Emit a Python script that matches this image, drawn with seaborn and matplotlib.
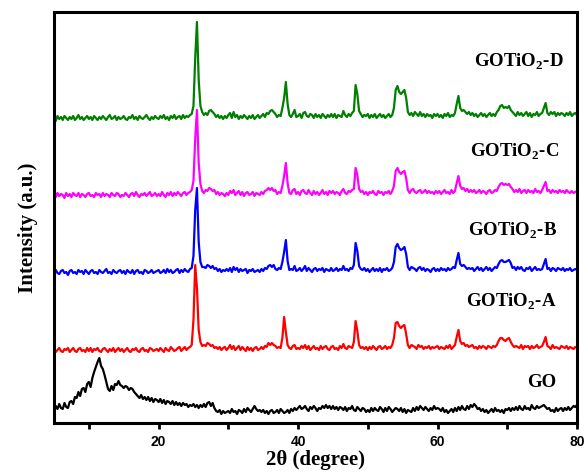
import numpy as np
import pandas as pd
import matplotlib
matplotlib.use("Agg")
import matplotlib.pyplot as plt
import seaborn as sns

# XRD scan grid, 2-theta in degrees (0.25 degree step)
two_theta = np.round(np.arange(5.0, 80.0 + 1e-9, 0.25), 2)

# Intensities (a.u.) per sample, one row = 5 degrees
go = [
    13, 17, 14, 19, 15, 14, 20, 16, 15, 21, 22, 19, 26, 25, 31, 27, 34, 35, 31, 39,
    41, 36, 45, 51, 56, 61, 65, 57, 54, 48, 41, 34, 32, 37, 33, 39, 38, 42, 38, 37,
    35, 37, 36, 33, 35, 34, 31, 29, 27, 25, 28, 24, 26, 23, 26, 22, 25, 21, 24, 23,
    21, 24, 20, 23, 19, 22, 21, 19, 22, 18, 21, 18, 20, 17, 20, 18, 19, 16, 18, 17,
    19, 16, 18, 15, 18, 16, 19, 16, 20, 21, 17, 20, 15, 12, 11, 13, 9, 12, 10, 11,
    12, 10, 14, 11, 12, 9, 13, 12, 10, 14, 11, 15, 13, 11, 14, 17, 14, 12, 13, 11,
    13, 10, 12, 9, 12, 13, 10, 11, 13, 10, 14, 12, 10, 11, 13, 10, 14, 12, 15, 13,
    15, 17, 14, 15, 17, 14, 12, 16, 14, 17, 15, 12, 15, 14, 17, 15, 18, 15, 17, 14,
    17, 14, 16, 13, 16, 15, 13, 16, 12, 15, 14, 17, 13, 12, 16, 14, 12, 15, 14, 11,
    13, 11, 15, 12, 15, 13, 12, 16, 14, 11, 15, 12, 16, 14, 11, 13, 15, 14, 12, 15,
    11, 14, 10, 13, 12, 11, 15, 12, 16, 13, 17, 15, 13, 16, 14, 12, 15, 13, 17, 14,
    15, 14, 12, 15, 11, 13, 10, 12, 14, 11, 15, 12, 16, 13, 17, 14, 13, 17, 14, 18,
    16, 19, 17, 14, 15, 12, 14, 11, 13, 10, 12, 14, 11, 15, 12, 13, 11, 13, 10, 14,
    13, 15, 12, 15, 13, 16, 13, 17, 14, 13, 17, 14, 15, 13, 18, 15, 14, 17, 15, 16,
    17, 18, 16, 14, 15, 12, 13, 11, 15, 12, 14, 15, 12, 15, 13, 16, 13, 15, 17, 16,
    18,
]

gotio2_a = [
    11, 8, 10, 12, 9, 8, 11, 10, 12, 8, 10, 12, 9, 8, 11, 12, 9, 10, 8, 12,
    9, 12, 8, 11, 10, 12, 9, 8, 11, 12, 10, 8, 11, 9, 12, 8, 10, 12, 9, 11,
    8, 10, 12, 9, 8, 11, 10, 12, 9, 8, 11, 12, 9, 10, 8, 12, 11, 9, 10, 11,
    9, 12, 10, 8, 12, 10, 9, 13, 11, 9, 10, 12, 13, 9, 11, 13, 10, 12, 13, 15,
    40, 95, 72, 30, 18, 14, 15, 14, 17, 16, 14, 15, 12, 13, 11, 13, 10, 12, 13, 10,
    12, 15, 11, 14, 10, 12, 14, 10, 13, 11, 9, 13, 10, 12, 9, 12, 13, 10, 11, 13,
    11, 14, 13, 17, 15, 17, 15, 14, 12, 13, 12, 22, 43, 28, 15, 12, 11, 14, 15, 11,
    12, 11, 14, 12, 15, 11, 14, 10, 12, 14, 11, 12, 10, 14, 11, 13, 14, 11, 10, 13,
    14, 11, 12, 10, 14, 12, 16, 12, 11, 14, 13, 12, 18, 39, 29, 15, 12, 13, 11, 13,
    10, 13, 11, 14, 12, 10, 13, 14, 11, 12, 14, 11, 13, 12, 15, 22, 37, 38, 34, 32,
    34, 35, 26, 15, 12, 15, 14, 13, 11, 15, 13, 14, 11, 13, 12, 14, 11, 13, 12, 13,
    14, 11, 13, 12, 11, 14, 12, 15, 11, 13, 15, 23, 30, 19, 16, 17, 14, 15, 13, 14,
    15, 12, 13, 11, 14, 12, 14, 13, 11, 14, 13, 12, 14, 13, 15, 19, 22, 22, 20, 19,
    21, 22, 18, 15, 13, 14, 13, 12, 15, 11, 14, 13, 14, 11, 14, 12, 13, 15, 12, 13,
    14, 18, 23, 14, 13, 11, 15, 12, 13, 12, 11, 14, 13, 12, 14, 11, 13, 12, 11, 13,
    12,
]

gotio2_b = [
    10, 12, 9, 8, 11, 12, 9, 10, 7, 11, 12, 9, 10, 8, 12, 10, 11, 8, 12, 10,
    8, 11, 12, 9, 10, 8, 12, 10, 9, 11, 13, 9, 10, 8, 12, 10, 9, 11, 12, 9,
    11, 8, 12, 10, 9, 12, 8, 11, 12, 9, 10, 8, 12, 11, 9, 10, 12, 9, 10, 11,
    12, 9, 10, 12, 9, 13, 10, 12, 9, 10, 12, 13, 9, 12, 10, 13, 11, 10, 13, 14,
    26, 72, 94, 40, 20, 15, 15, 14, 17, 16, 14, 16, 13, 14, 11, 13, 10, 12, 11, 13,
    11, 14, 10, 15, 12, 14, 10, 13, 11, 12, 13, 9, 12, 11, 13, 10, 11, 12, 10, 13,
    11, 14, 13, 16, 17, 15, 17, 13, 12, 14, 13, 20, 30, 42, 21, 12, 13, 12, 16, 11,
    12, 14, 11, 13, 16, 11, 14, 12, 10, 13, 14, 11, 13, 12, 14, 10, 13, 12, 11, 14,
    11, 12, 14, 11, 13, 12, 16, 12, 13, 11, 14, 13, 17, 39, 31, 16, 13, 12, 14, 11,
    13, 10, 12, 14, 11, 13, 11, 14, 10, 13, 12, 14, 11, 12, 14, 20, 35, 38, 34, 32,
    33, 35, 28, 15, 12, 15, 14, 13, 11, 14, 15, 12, 14, 11, 13, 12, 10, 13, 14, 11,
    13, 11, 14, 12, 13, 11, 14, 12, 13, 15, 14, 22, 29, 18, 16, 17, 15, 13, 14, 13,
    14, 11, 13, 15, 12, 14, 11, 13, 15, 12, 14, 11, 13, 15, 14, 18, 21, 22, 20, 20,
    21, 22, 19, 14, 15, 12, 15, 13, 15, 12, 11, 14, 13, 15, 11, 13, 15, 12, 13, 12,
    13, 18, 23, 13, 14, 11, 14, 13, 11, 14, 13, 12, 14, 11, 13, 12, 14, 11, 12, 13,
    12,
]

gotio2_c = [
    11, 8, 12, 9, 11, 10, 7, 12, 9, 11, 8, 12, 10, 9, 12, 8, 11, 10, 8, 11,
    12, 9, 10, 8, 12, 10, 11, 8, 12, 9, 11, 10, 8, 12, 10, 9, 12, 11, 8, 10,
    9, 12, 10, 8, 11, 12, 9, 13, 10, 8, 11, 10, 12, 9, 11, 13, 9, 10, 12, 9,
    11, 9, 13, 10, 8, 12, 10, 13, 9, 12, 10, 13, 11, 9, 12, 13, 10, 12, 13, 15,
    24, 66, 95, 42, 21, 14, 12, 15, 14, 17, 16, 14, 15, 11, 13, 10, 12, 11, 9, 12,
    10, 14, 12, 15, 10, 12, 14, 10, 13, 9, 12, 13, 10, 11, 13, 9, 12, 11, 10, 13,
    11, 14, 15, 17, 15, 17, 14, 15, 11, 13, 12, 19, 29, 42, 22, 12, 11, 15, 16, 11,
    13, 10, 14, 15, 12, 11, 15, 12, 10, 14, 11, 13, 10, 12, 15, 11, 13, 10, 14, 12,
    14, 11, 13, 12, 10, 14, 16, 12, 11, 14, 13, 15, 16, 37, 30, 16, 13, 14, 11, 13,
    10, 13, 12, 14, 11, 10, 14, 12, 13, 10, 13, 12, 14, 11, 14, 19, 34, 37, 33, 31,
    33, 34, 27, 15, 12, 15, 16, 13, 12, 14, 15, 12, 13, 15, 12, 14, 12, 13, 11, 14,
    12, 14, 11, 13, 15, 12, 13, 11, 15, 12, 14, 22, 29, 19, 16, 17, 14, 16, 13, 15,
    13, 15, 12, 13, 15, 12, 14, 13, 11, 14, 15, 12, 13, 15, 14, 18, 21, 22, 20, 21,
    20, 21, 18, 16, 13, 15, 13, 16, 12, 14, 15, 12, 15, 13, 14, 12, 16, 13, 14, 12,
    15, 19, 23, 14, 15, 12, 15, 13, 14, 12, 15, 13, 14, 12, 15, 13, 12, 14, 12, 13,
    14,
]

gotio2_d = [
    10, 7, 12, 9, 11, 8, 12, 10, 8, 11, 9, 12, 8, 10, 13, 9, 11, 8, 10, 12,
    9, 11, 8, 12, 10, 8, 11, 9, 12, 10, 8, 11, 13, 9, 10, 12, 8, 11, 9, 10,
    12, 9, 8, 11, 10, 13, 9, 11, 8, 12, 10, 9, 11, 13, 10, 8, 11, 9, 12, 10,
    9, 12, 10, 13, 9, 11, 8, 12, 10, 13, 9, 11, 12, 9, 13, 10, 12, 11, 13, 14,
    22, 70, 106, 48, 22, 16, 13, 15, 13, 17, 18, 16, 14, 11, 13, 10, 12, 9, 12, 10,
    13, 15, 10, 16, 11, 13, 9, 12, 10, 13, 11, 9, 12, 10, 13, 9, 11, 13, 10, 12,
    14, 11, 15, 14, 17, 18, 16, 14, 11, 13, 12, 20, 30, 46, 24, 13, 11, 14, 18, 11,
    12, 14, 10, 15, 16, 12, 11, 14, 13, 10, 14, 11, 13, 10, 14, 12, 10, 13, 11, 14,
    11, 14, 10, 13, 12, 11, 17, 13, 11, 14, 12, 15, 17, 43, 34, 17, 14, 11, 13, 12,
    14, 10, 13, 11, 14, 10, 12, 14, 11, 13, 10, 12, 14, 11, 13, 20, 38, 42, 36, 34,
    36, 38, 30, 16, 13, 15, 12, 16, 14, 12, 16, 12, 14, 11, 14, 12, 13, 10, 14, 12,
    14, 11, 13, 10, 14, 12, 15, 11, 13, 12, 15, 24, 32, 20, 17, 18, 16, 14, 16, 13,
    15, 12, 14, 11, 13, 15, 12, 14, 11, 13, 15, 12, 14, 12, 16, 18, 22, 23, 20, 21,
    20, 22, 18, 16, 14, 12, 16, 13, 15, 12, 14, 16, 12, 15, 11, 14, 13, 16, 12, 14,
    15, 20, 25, 15, 13, 16, 14, 16, 12, 15, 13, 15, 14, 12, 15, 13, 16, 12, 14, 15,
    13,
]

sample_names = ["GO", "GOTiO$_\\mathbf{2}$-A", "GOTiO$_\\mathbf{2}$-B",
                "GOTiO$_\\mathbf{2}$-C", "GOTiO$_\\mathbf{2}$-D"]
patterns = [go, gotio2_a, gotio2_b, gotio2_c, gotio2_d]

# vertical stacking of the patterns and line colours
stack_offsets = [0, 63, 141, 218, 295]
line_colors = ["black", "#ff0000", "#0000ff", "#ff00ff", "#008000"]

frames = []
for name, values, off in zip(sample_names, patterns, stack_offsets):
    assert len(values) == len(two_theta), (name, len(values))
    frames.append(pd.DataFrame({
        "theta": two_theta,
        "signal": np.asarray(values, dtype=float) + off,
        "sample": name,
    }))
df = pd.concat(frames, ignore_index=True)

sns.set_style("ticks")
plt.rcParams["font.family"] = ["Liberation Serif", "DejaVu Serif"]
plt.rcParams["mathtext.fontset"] = "custom"
plt.rcParams["mathtext.rm"] = "Liberation Serif:bold"
plt.rcParams["mathtext.bf"] = "Liberation Serif:bold"
plt.rcParams["text.color"] = "black"
plt.rcParams["axes.labelcolor"] = "black"
plt.rcParams["xtick.color"] = "black"
plt.rcParams["ytick.color"] = "black"
plt.rcParams["axes.edgecolor"] = "black"

fig = plt.figure(figsize=(5.88, 4.73), dpi=100)
ax = fig.add_axes([54 / 588, 50 / 473, 523 / 588, 411 / 473])

sns.lineplot(data=df, x="theta", y="signal", hue="sample",
             hue_order=sample_names, palette=line_colors,
             estimator=None, sort=False, legend=False,
             linewidth=1.6, ax=ax)

ax.set_xlim(5, 80)
ax.set_ylim(0, 411)
ax.set_xticks([20, 40, 60, 80])
ax.set_xticks([10, 30, 50, 70], minor=True)
ax.set_yticks([])
ax.tick_params(axis="x", which="both", direction="out", length=4.5,
               width=2, pad=4, colors="black")
for lbl in ax.get_xticklabels():
    lbl.set_fontfamily("Liberation Sans")
    lbl.set_fontweight("bold")
    lbl.set_fontsize(10)
    lbl.set_color("black")

for sp in ax.spines.values():
    sp.set_visible(True)
    sp.set_linewidth(2.2)
    sp.set_color("black")

ax.set_xlabel("2θ (degree)", fontsize=15, fontweight="bold", labelpad=1,
              color="black")
ax.set_ylabel("Intensity (a.u.)", fontsize=15, fontweight="bold",
              color="black")
ax.yaxis.set_label_coords(-0.031, 0.474)

# sample names beside each pattern
label_x = [77.0, 77.1, 77.1, 77.4, 78.1]
label_y = [36, 116, 187, 266, 356]
for name, lx, ly in zip(sample_names, label_x, label_y):
    ax.text(lx, ly, name, ha="right", va="baseline", fontsize=13.5,
            fontweight="bold", color="black")

fig.savefig("out.png", dpi=100)
